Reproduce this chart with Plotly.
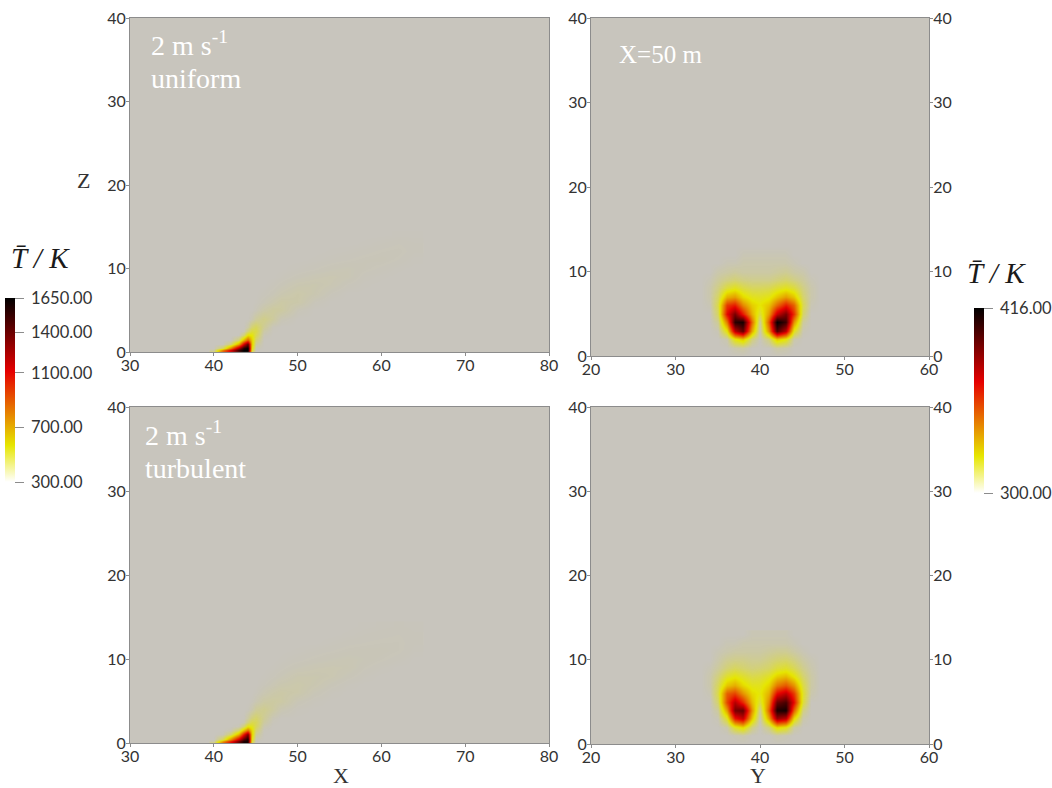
import plotly.graph_objects as go

W, H = 1052, 788

# X-Z slice grids (metres)
xz_x = [40, 41, 42, 43, 43.5, 44, 44.5, 45, 46, 47, 48, 50, 52, 54, 56, 58, 60, 62, 64]
xz_z = [0, 0.25, 0.5, 1, 1.5, 2, 2.5, 3, 4, 5, 6, 7, 8, 9, 10, 11, 12, 13, 14]
# temperature K, rows by z, columns by x
t_xz_uniform = [
    [420, 950, 1200, 1500, 1650, 1620, 460, 300, 300, 300, 300, 300, 300, 300, 300, 300, 300, 300, 300],
    [330, 800, 1120, 1500, 1650, 1650, 520, 303, 300, 300, 300, 300, 300, 300, 300, 300, 300, 300, 300],
    [300, 430, 800, 1250, 1560, 1640, 580, 315, 300, 300, 300, 300, 300, 300, 300, 300, 300, 300, 300],
    [300, 300, 400, 720, 1150, 1420, 640, 350, 300, 300, 300, 300, 300, 300, 300, 300, 300, 300, 300],
    [300, 300, 300, 410, 700, 900, 620, 400, 301, 300, 300, 300, 300, 300, 300, 300, 300, 300, 300],
    [300, 300, 300, 300, 400, 580, 560, 450, 312, 300, 300, 300, 300, 300, 300, 300, 300, 300, 300],
    [300, 300, 300, 300, 305, 400, 480, 470, 330, 302, 300, 300, 300, 300, 300, 300, 300, 300, 300],
    [300, 300, 300, 300, 300, 330, 410, 440, 355, 306, 300, 300, 300, 300, 300, 300, 300, 300, 300],
    [300, 300, 300, 300, 300, 300, 315, 345, 375, 345, 312, 300, 300, 300, 300, 300, 300, 300, 300],
    [300, 300, 300, 300, 300, 300, 300, 308, 330, 345, 340, 308, 300, 300, 300, 300, 300, 300, 300],
    [300, 300, 300, 300, 300, 300, 300, 301, 310, 322, 334, 328, 306, 300, 300, 300, 300, 300, 300],
    [300, 300, 300, 300, 300, 300, 300, 300, 303, 309, 318, 328, 318, 305, 300, 300, 300, 300, 300],
    [300, 300, 300, 300, 300, 300, 300, 300, 300, 303, 308, 318, 320, 314, 305, 301, 300, 300, 300],
    [300, 300, 300, 300, 300, 300, 300, 300, 300, 300, 302, 308, 313, 316, 312, 303, 301, 300, 300],
    [300, 300, 300, 300, 300, 300, 300, 300, 300, 300, 300, 302, 305, 309, 311, 307, 304, 301, 300],
    [300, 300, 300, 300, 300, 300, 300, 300, 300, 300, 300, 300, 301, 303, 305, 307, 308, 305, 301],
    [300, 300, 300, 300, 300, 300, 300, 300, 300, 300, 300, 300, 300, 301, 302, 304, 306, 307, 303],
    [300, 300, 300, 300, 300, 300, 300, 300, 300, 300, 300, 300, 300, 300, 300, 301, 303, 305, 303],
    [300, 300, 300, 300, 300, 300, 300, 300, 300, 300, 300, 300, 300, 300, 300, 300, 300, 301, 301],
]
t_xz_turbulent = [
    [420, 880, 1120, 1400, 1580, 1560, 450, 300, 300, 300, 300, 300, 300, 300, 300, 300, 300, 300, 300],
    [330, 760, 1060, 1400, 1600, 1600, 500, 303, 300, 300, 300, 300, 300, 300, 300, 300, 300, 300, 300],
    [300, 440, 780, 1150, 1450, 1580, 560, 315, 300, 300, 300, 300, 300, 300, 300, 300, 300, 300, 300],
    [300, 310, 420, 700, 1080, 1360, 620, 355, 301, 300, 300, 300, 300, 300, 300, 300, 300, 300, 300],
    [300, 300, 315, 430, 680, 860, 600, 400, 303, 300, 300, 300, 300, 300, 300, 300, 300, 300, 300],
    [300, 300, 300, 310, 410, 560, 530, 440, 318, 300, 300, 300, 300, 300, 300, 300, 300, 300, 300],
    [300, 300, 300, 300, 315, 400, 460, 445, 340, 304, 300, 300, 300, 300, 300, 300, 300, 300, 300],
    [300, 300, 300, 300, 302, 340, 395, 420, 355, 310, 300, 300, 300, 300, 300, 300, 300, 300, 300],
    [300, 300, 300, 300, 300, 303, 320, 350, 365, 340, 315, 302, 300, 300, 300, 300, 300, 300, 300],
    [300, 300, 300, 300, 300, 300, 303, 315, 335, 340, 335, 310, 302, 300, 300, 300, 300, 300, 300],
    [300, 300, 300, 300, 300, 300, 300, 303, 315, 326, 332, 326, 310, 302, 300, 300, 300, 300, 300],
    [300, 300, 300, 300, 300, 300, 300, 300, 305, 312, 320, 326, 318, 308, 302, 300, 300, 300, 300],
    [300, 300, 300, 300, 300, 300, 300, 300, 301, 305, 310, 320, 320, 316, 308, 302, 300, 300, 300],
    [300, 300, 300, 300, 300, 300, 300, 300, 300, 301, 304, 310, 314, 316, 314, 306, 302, 300, 300],
    [300, 300, 300, 300, 300, 300, 300, 300, 300, 300, 301, 304, 307, 310, 312, 309, 306, 303, 300],
    [300, 300, 300, 300, 300, 300, 300, 300, 300, 300, 300, 301, 303, 305, 307, 308, 308, 306, 302],
    [300, 300, 300, 300, 300, 300, 300, 300, 300, 300, 300, 300, 300, 302, 304, 305, 306, 306, 303],
    [300, 300, 300, 300, 300, 300, 300, 300, 300, 300, 300, 300, 300, 300, 301, 303, 304, 305, 303],
    [300, 300, 300, 300, 300, 300, 300, 300, 300, 300, 300, 300, 300, 300, 300, 301, 302, 303, 302],
]

# Y-Z slice grids at X = 50 m
yz_y = [33, 34, 35, 36, 37, 38, 39, 40, 41, 42, 43, 44, 45, 46, 47]
yz_z = [0, 1, 2, 3, 4, 5, 6, 7, 8, 9, 10, 11, 12, 13]
t_yz_uniform = [
    [300, 300, 300, 300, 300, 300, 300, 300, 300, 300, 300, 300, 300, 300, 300],
    [300, 300, 300, 300, 302, 303, 300, 300, 300, 303, 302, 300, 300, 300, 300],
    [300, 300, 300, 302, 322, 330, 308, 300, 308, 330, 322, 302, 300, 300, 300],
    [300, 300, 301, 322, 378, 396, 336, 301, 340, 400, 378, 320, 301, 300, 300],
    [300, 300, 305, 345, 408, 412, 348, 304, 352, 416, 404, 340, 304, 300, 300],
    [300, 300, 311, 368, 392, 365, 334, 316, 338, 376, 392, 360, 310, 300, 300],
    [300, 301, 314, 358, 364, 342, 328, 323, 330, 348, 364, 350, 313, 301, 300],
    [300, 302, 311, 334, 338, 326, 320, 319, 321, 330, 338, 330, 310, 302, 300],
    [300, 302, 307, 316, 320, 315, 312, 312, 313, 317, 320, 316, 307, 302, 300],
    [300, 301, 304, 307, 309, 307, 306, 306, 306, 308, 310, 307, 304, 301, 300],
    [300, 300, 302, 303, 304, 303, 303, 303, 303, 304, 305, 303, 302, 300, 300],
    [300, 300, 300, 301, 301, 302, 302, 302, 302, 302, 302, 301, 300, 300, 300],
    [300, 300, 300, 300, 300, 301, 301, 301, 301, 301, 301, 300, 300, 300, 300],
    [300, 300, 300, 300, 300, 300, 300, 300, 300, 300, 300, 300, 300, 300, 300],
]
t_yz_turbulent = [
    [300, 300, 300, 300, 300, 300, 300, 300, 300, 300, 300, 300, 300, 300, 300],
    [300, 300, 300, 300, 301, 302, 300, 300, 300, 302, 301, 300, 300, 300, 300],
    [300, 300, 300, 302, 318, 325, 307, 300, 307, 325, 320, 303, 300, 300, 300],
    [300, 300, 301, 318, 365, 376, 330, 301, 336, 385, 378, 325, 302, 300, 300],
    [300, 300, 304, 338, 392, 396, 340, 305, 350, 410, 412, 350, 307, 300, 300],
    [300, 300, 310, 355, 380, 362, 332, 316, 342, 395, 402, 368, 316, 300, 300],
    [300, 301, 314, 350, 356, 340, 326, 322, 334, 368, 378, 358, 318, 302, 300],
    [300, 302, 312, 330, 335, 326, 320, 320, 327, 345, 352, 340, 315, 303, 300],
    [300, 302, 308, 318, 322, 318, 314, 315, 319, 328, 332, 323, 310, 303, 300],
    [300, 301, 304, 309, 312, 310, 308, 309, 311, 316, 318, 313, 306, 302, 300],
    [300, 300, 302, 305, 306, 306, 305, 305, 307, 309, 310, 307, 303, 301, 300],
    [300, 300, 301, 302, 303, 303, 303, 303, 304, 305, 305, 303, 301, 300, 300],
    [300, 300, 300, 301, 301, 302, 302, 302, 302, 302, 302, 301, 300, 300, 300],
    [300, 300, 300, 300, 300, 300, 301, 301, 301, 301, 301, 300, 300, 300, 300],
]

xz_range = [30, 80]
yz_range = [20, 60]
z_range = [0, 40]
xz_xticks = [30, 40, 50, 60, 70, 80]
yz_yticks = [20, 30, 40, 50, 60]
z_ticks = [0, 10, 20, 30, 40]
cb_left_ticks = [300, 700, 1100, 1400, 1650]
cb_left_text = ["\u2005300.00", "\u2005700.00", "\u20051100.00", "\u20051400.00", "\u20051650.00"]
cb_right_ticks = [300, 416]
cb_right_text = ["\u2005300.00", "\u2005416.00"]

BG = "#c8c5bd"
AXIS = "#8c8c8c"
TXT = "#333333"
TICKFONT = dict(family="Lato", size=16, color=TXT)
SCALE = [
    [0.0, "rgba(230,230,0,0)"],
    [0.2, "rgba(230,230,0,1)"],
    [0.6, "rgba(230,0,0,1)"],
    [1.0, "rgba(0,0,0,1)"],
]


def fx(p):
    return p / W


def fy(p):
    return 1 - p / H


def cb(px_left, top, bottom, vals, text):
    return dict(
        x=fx(px_left), xanchor="left", xpad=0,
        y=fy(top), yanchor="top", ypad=0,
        len=bottom - top, lenmode="pixels",
        thickness=10, thicknessmode="pixels",
        outlinewidth=0, tickmode="array", tickvals=vals, ticktext=text,
        ticks="outside", ticklen=9, tickcolor=AXIS, tickwidth=1,
        tickfont=dict(family="Lato", size=16.5, color=TXT),
    )


fig = go.Figure()
panels = [
    ("x", "y", xz_x, xz_z, t_xz_uniform, 300, 1650, cb(5, 298, 482, cb_left_ticks, cb_left_text)),
    ("x2", "y2", yz_y, yz_z, t_yz_uniform, 300, 416, cb(974, 308, 493, cb_right_ticks, cb_right_text)),
    ("x3", "y3", xz_x, xz_z, t_xz_turbulent, 300, 1650, None),
    ("x4", "y4", yz_y, yz_z, t_yz_turbulent, 300, 416, None),
]
for xa, ya, gx, gz, t, zmin, zmax, bar in panels:
    fig.add_trace(go.Heatmap(
        x=gx, y=gz, z=t, xaxis=xa, yaxis=ya, zmin=zmin, zmax=zmax,
        colorscale=SCALE, zsmooth="best", hoverinfo="skip",
        showscale=bar is not None, colorbar=bar,
    ))
# carriers for the right-hand Z axes of the right column
fig.add_trace(go.Scatter(x=[None], y=[None], xaxis="x2", yaxis="y5", showlegend=False))
fig.add_trace(go.Scatter(x=[None], y=[None], xaxis="x4", yaxis="y6", showlegend=False))


def xax(left, right, rng, ticks, anchor):
    return dict(
        domain=[fx(left), fx(right)], range=rng, tickvals=ticks, anchor=anchor,
        showgrid=False, zeroline=False, showline=True, mirror=True, linecolor=AXIS, linewidth=1,
        ticks="outside", ticklen=3, tickcolor=AXIS, tickfont=TICKFONT, ticklabelstandoff=-4,
    )


def yax(top, bottom, anchor, **kw):
    return dict(
        domain=[fy(bottom), fy(top)], range=z_range, tickvals=z_ticks, anchor=anchor,
        showgrid=False, zeroline=False, showline=True, mirror=True, linecolor=AXIS, linewidth=1,
        ticks="outside", ticklen=3, tickcolor=AXIS, tickfont=TICKFONT, ticklabelstandoff=-3, **kw
    )


def note(text, px, py, size, color="white", family="Liberation Serif", **kw):
    return dict(
        text=text, x=fx(px), y=fy(py), xref="paper", yref="paper",
        xanchor=kw.pop("xanchor", "left"), yanchor="middle", showarrow=False,
        font=dict(family=family, size=size, color=color), **kw
    )


fig.update_layout(
    width=W, height=H, paper_bgcolor="white", plot_bgcolor=BG, showlegend=False,
    margin=dict(l=0, r=0, t=0, b=0, autoexpand=False),
    xaxis=xax(130, 549, xz_range, xz_xticks, "y"),
    yaxis=yax(18, 352, "x"),
    xaxis2=xax(591, 929, yz_range, yz_yticks, "y2"),
    yaxis2=yax(18, 356, "x2"),
    xaxis3=xax(130, 549, xz_range, xz_xticks, "y3"),
    yaxis3=yax(407, 743, "x3"),
    xaxis4=xax(591, 929, yz_range, yz_yticks, "y4"),
    yaxis4=yax(407, 744, "x4"),
    yaxis5=yax(18, 356, "x2", overlaying="y2", side="right"),
    yaxis6=yax(407, 744, "x4", overlaying="y4", side="right"),
    annotations=[
        note("2 m s<sup>-1</sup>", 149, 43, 28),
        note("uniform", 149, 78, 28),
        note("X=50 m", 617, 54, 25),
        note("2 m s<sup>-1</sup>", 143, 433, 28),
        note("turbulent", 143, 468, 28),
        note("Z", 83, 181, 22, TXT, xanchor="center"),
        note("X", 341, 775, 22, TXT, xanchor="center"),
        note("Y", 758, 775, 22, TXT, xanchor="center"),
        note("<i>T\u0304 / K</i>", 9, 258, 29, "#1a1a1a"),
        note("<i>T\u0304 / K</i>", 965, 273, 29, "#1a1a1a"),
    ],
)

fig.write_html(
    "out.html",
    config={"displayModeBar": False},
    post_script="document.body.style.margin='0';document.body.style.overflow='hidden';",
)
